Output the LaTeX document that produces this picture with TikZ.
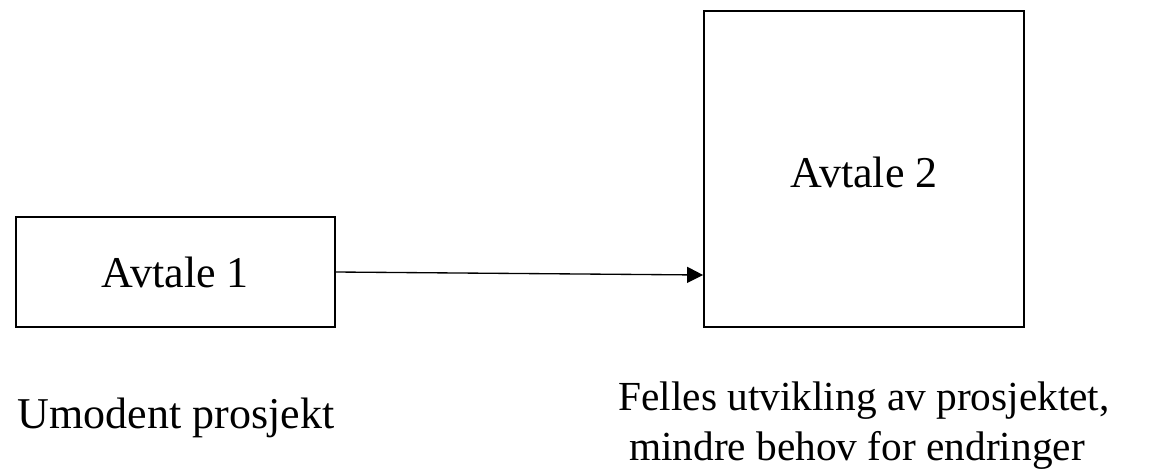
\documentclass[tikz,border=0pt]{standalone}
\usepackage{fontspec}
\setmainfont{Liberation Serif}
\usetikzlibrary{arrows.meta}
\begin{document}
\begin{tikzpicture}[x=0.75pt,y=-0.75pt,
  boxstyle/.style={draw,line width=1.4pt,inner sep=0pt},
  lbl/.style={font=\fontsize{33}{38}\selectfont},
  lblb/.style={font=\fontsize{31}{38}\selectfont},
  conn/.style={line width=1pt,-{Triangle[length=12pt,width=12pt]}}]
\useasboundingbox (0,0) rectangle (1156,475);
\node[boxstyle,minimum width=319*0.75pt,minimum height=110*0.75pt] (b1) at (175.5,272) {};
\node[boxstyle,minimum width=320*0.75pt,minimum height=316*0.75pt] (b2) at (864,169) {};
\node[lbl] (t1) at (175.5,272) {Avtale 1};
\node[lbl] (t2) at (864,172) {Avtale 2};
\coordinate (a2) at (b2.west |- 0,275);
\draw[conn] (b1.east |- 0,272) -- (a2);
\node[lbl,anchor=base] (c1) at (176,428) {Umodent prosjekt};
\node[lblb,anchor=base] (c2) at (864,410) {Felles utvikling av prosjektet,};
\node[lblb,anchor=base] (c3) at (857,460) {mindre behov for endringer};
\end{tikzpicture}
\end{document}
